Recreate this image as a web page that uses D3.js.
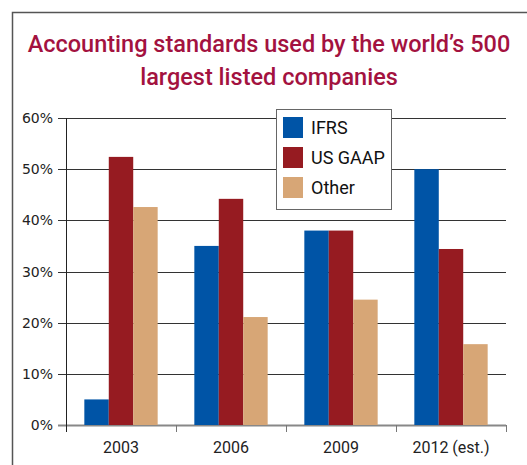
<!DOCTYPE html>
<html>
<head>
<meta charset="utf-8">
<script src="https://cdn.jsdelivr.net/npm/d3@7"></script>
<style>
  body { margin: 0; background: #fff; }
  svg { display: block; }
</style>
</head>
<body>
<svg width="527" height="465"></svg>
<script>
// data
const years = ["2003", "2006", "2009", "2012 (est.)"];
const series = ["IFRS", "US GAAP", "Other"];
const ifrs = [5, 35, 38, 50];
const usGaap = [52.4, 44.2, 38, 34.4];
const other = [42.6, 21.1, 24.5, 15.8];
const yTicks = [0, 10, 20, 30, 40, 50, 60];
const colors = ["#0054a6", "#961b21", "#d7a676"];

const svg = d3.select("svg"),
    width = +svg.attr("width"),
    height = +svg.attr("height");

const margin = {top: 118, right: 21, bottom: 40, left: 66};
const valuesBySeries = [ifrs, usGaap, other];

// outer frame (left + top only)
svg.append("path")
    .attr("d", `M12.5,${height} V12.5 H${width}`)
    .attr("fill", "none")
    .attr("stroke", "#555")
    .attr("stroke-width", 1.5);

// title
const title = svg.append("text")
    .attr("text-anchor", "middle")
    .attr("fill", "#a3123f")
    .style("font-family", "Roboto, 'Noto Sans', sans-serif")
    .style("font-weight", 500)
    .style("font-size", "23.5px");
title.append("tspan").attr("x", 269).attr("y", 52).text("Accounting standards used by the world’s 500");
title.append("tspan").attr("x", 269).attr("y", 85).text("largest listed companies");

// scales
const x = d3.scaleBand()
    .domain(years)
    .range([margin.left, width - margin.right]);

const x1 = d3.scaleBand()
    .domain(series)
    .range([0, x.bandwidth()])
    .paddingOuter(0.75)
    .paddingInner(0);

const y = d3.scaleLinear()
    .domain([0, 60])
    .range([height - margin.bottom, margin.top]);

// gridlines
svg.append("g")
    .selectAll("line")
    .data(yTicks)
    .join("line")
      .attr("x1", margin.left - 8)
      .attr("x2", width - margin.right)
      .attr("y1", d => Math.round(y(d)) + 0.5)
      .attr("y2", d => Math.round(y(d)) + 0.5)
      .attr("stroke", d => d == 0 ? "#888" : "#333")
      .attr("stroke-width", d => d == 0 ? 2 : 1);

// y labels
svg.append("g")
    .selectAll("text")
    .data(yTicks)
    .join("text")
      .attr("x", margin.left - 13)
      .attr("y", d => y(d) + 5)
      .attr("text-anchor", "end")
      .attr("fill", "#222")
      .style("font-family", "'DejaVu Sans', Verdana, sans-serif")
      .style("font-size", "14px")
      .text(d => d + "%");

// bars
const groups = svg.append("g")
    .selectAll("g")
    .data(years)
    .join("g")
      .attr("transform", d => `translate(${x(d)},0)`);

groups.selectAll("rect")
    .data((d, i) => series.map((s, j) => ({s: s, j: j, v: valuesBySeries[j][i]})))
    .join("rect")
      .attr("x", d => x1(d.s))
      .attr("width", x1.bandwidth())
      .attr("y", d => y(d.v))
      .attr("height", d => y(0) - y(d.v))
      .attr("fill", d => colors[d.j]);

// y axis line
svg.append("line")
    .attr("x1", margin.left + 0.5).attr("x2", margin.left + 0.5)
    .attr("y1", margin.top).attr("y2", height - margin.bottom + 7)
    .attr("stroke", "#222");

// x ticks
const bounds = years.map(d => x(d)).concat([x.range()[1]]);
svg.append("g")
    .selectAll("line")
    .data(bounds.slice(1))
    .join("line")
      .attr("x1", d => Math.round(d) + 0.5)
      .attr("x2", d => Math.round(d) + 0.5)
      .attr("y1", y(0))
      .attr("y2", y(0) + 7)
      .attr("stroke", "#777");

// x labels
svg.append("g")
    .selectAll("text")
    .data(years)
    .join("text")
      .attr("x", d => x(d) + x.bandwidth() / 2)
      .attr("y", height - 12)
      .attr("text-anchor", "middle")
      .attr("fill", "#222")
      .style("font-family", "Roboto, 'Noto Sans', sans-serif")
      .style("font-size", "16px")
      .text(d => d);

// legend
const legend = svg.append("g").attr("transform", "translate(276,109)");
legend.append("rect")
    .attr("x", 0.5).attr("y", 0.5)
    .attr("width", 115).attr("height", 100)
    .attr("fill", "#fff")
    .attr("stroke", "#666");

const items = legend.selectAll("g")
    .data(series)
    .join("g")
      .attr("transform", (d, i) => `translate(7,${8 + i * 30})`);

items.append("rect")
    .attr("width", 20).attr("height", 21)
    .attr("fill", (d, i) => colors[i]);

items.append("text")
    .attr("x", 28)
    .attr("y", 17)
    .attr("fill", "#111")
    .style("font-family", "Roboto, 'Noto Sans', sans-serif")
    .style("font-size", "18px")
    .text(d => d);
</script>
</body>
</html>
